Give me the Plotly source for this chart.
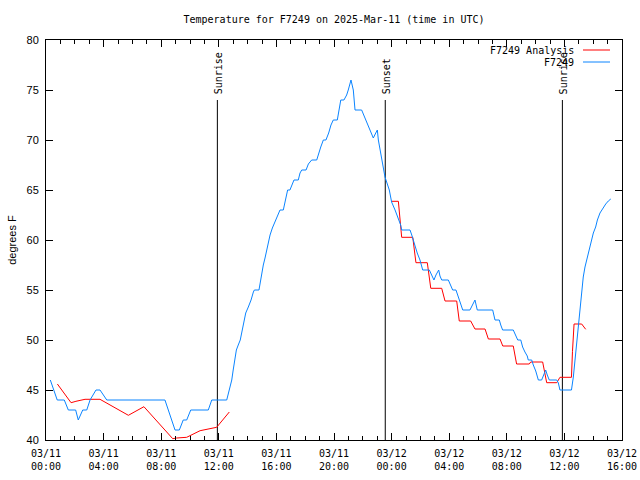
import plotly.graph_objects as go

# ---- data (hours since 03/11 00:00 UTC) ----
obs_hours = [0.30, 0.78, 1.27, 1.55, 2.06, 2.24, 2.55, 2.83, 3.06, 3.47, 3.75, 4.22, 8.26, 8.96, 9.26, 9.53,
             9.77, 10.05, 11.27, 11.51, 12.55, 12.73, 12.90, 13.00, 13.13, 13.22, 13.35, 13.49, 13.63, 13.75,
             13.87, 14.05, 14.24, 14.40, 14.47, 14.79, 14.86, 14.98, 15.09, 15.21, 15.33, 15.44, 15.56, 15.72,
             15.90, 16.06, 16.25, 16.48, 16.60, 16.67, 16.78, 16.94, 17.06, 17.22, 17.52, 17.64, 17.76, 18.06,
             18.22, 18.45, 18.80, 18.90, 19.08, 19.26, 19.44, 19.63, 19.79, 19.95, 20.23, 20.35, 20.47, 20.69,
             20.88, 20.99, 21.11, 21.18, 21.34, 21.46, 21.92, 22.03, 22.22, 22.38, 22.55, 22.73, 22.90, 23.01,
             23.08, 23.19, 23.31, 23.42, 23.54, 23.84, 24.00, 24.24, 24.47, 24.63, 24.70, 25.28, 25.40, 25.51,
             25.62, 25.78, 25.97, 26.16, 26.62, 26.78, 26.94, 27.08, 27.27, 27.36, 27.48, 27.94, 28.10, 28.24,
             28.47, 28.63, 28.75, 28.94, 29.44, 29.63, 29.79, 29.95, 31.02, 31.18, 31.48, 31.58, 31.71, 32.45,
             32.64, 32.76, 32.97, 33.10, 33.26, 33.42, 33.49, 33.73, 33.84, 34.01, 34.19, 34.42, 34.56, 34.70,
             34.81, 34.95, 35.47, 35.58, 35.69, 36.49, 36.62, 36.74, 36.85, 36.97, 37.08, 37.20, 37.31, 37.43,
             37.55, 37.66, 37.78, 37.90, 38.01, 38.17, 38.29, 38.47, 38.66, 38.87, 39.05, 39.22]
obs_temp = [46, 44, 44, 43, 43, 42, 43, 43, 44, 45, 45, 44, 44, 41, 41, 42,
            42, 43, 43, 44, 44, 45, 46, 47, 48, 49, 49.5, 50, 51, 52,
            52.7, 53.3, 54, 54.8, 55, 55, 55.7, 56.7, 57.5, 58.2, 59, 59.8, 60.5, 61.2,
            61.8, 62.5, 63, 63, 63.8, 64.5, 65, 65, 65.5, 66, 66, 66.7, 67, 67,
            67.6, 68, 68, 68.5, 69.3, 70, 70, 70.7, 71.5, 72, 72, 73, 74, 74,
            74.5, 75, 75.7, 76, 75, 73, 73, 72.6, 72, 71.3, 70.8, 70.2, 70.7, 71,
            70, 69, 68, 67, 66.3, 65, 63.8, 63, 62.2, 61.5, 61, 61, 60.5, 60,
            59.3, 58.7, 58, 57, 57, 56.5, 56, 56.5, 57, 56.4, 56, 56, 55.5, 55,
            55, 54.3, 53.7, 53, 53, 53.5, 54, 53, 53, 52, 52, 51.5, 51, 51,
            50.3, 50, 50, 49.3, 48.8, 48.4, 48, 48, 47.5, 46.9, 46, 46, 46.5, 47,
            46.5, 46, 46, 45.7, 45, 45, 46.3, 48, 49.7, 51.3, 53.3, 55, 56.3, 57.3,
            58, 58.7, 59.3, 60, 60.7, 61.3, 62, 62.7, 63.2, 63.6, 63.9, 64.1]

ana_hours = [0.79, 1.74, 2.08, 2.71, 3.75, 5.72, 6.80, 8.80, 9.07, 9.77, 10.70, 11.85, 12.73, None,
             24.00, 24.47, 24.70, 25.47, 25.69, 26.48, 26.72, 27.48, 27.71, 28.52, 28.70, 29.49, 29.79,
             30.49, 30.72, 31.53, 31.72, 32.45, 32.68, 33.56, 33.66, 34.49, 34.77, 35.47, 35.69, 36.49,
             36.56, 36.67, 37.20, 37.48]
ana_temp = [45.6, 43.73, 43.87, 44.07, 44.07, 42.47, 43.33, 40.13, 40.2, 40.27, 40.93, 41.27, 42.8, None,
            63.87, 63.87, 60.27, 60.27, 57.73, 57.73, 55.17, 55.17, 53.9, 53.9, 51.9, 51.9, 51.1,
            51.1, 50.1, 50.1, 49.4, 49.4, 47.6, 47.6, 47.8, 47.8, 45.73, 45.73, 46.27, 46.27,
            48.83, 51.6, 51.6, 51.07]

event_hours = [11.9, 23.56, 35.86]
event_names = ["Sunrise", "Sunset", "Sunrise"]
event_top = 74

tick_hours = [0, 4, 8, 12, 16, 20, 24, 28, 32, 36, 40]
tick_labels = ["03/11<br>00:00", "03/11<br>04:00", "03/11<br>08:00", "03/11<br>12:00", "03/11<br>16:00",
               "03/11<br>20:00", "03/12<br>00:00", "03/12<br>04:00", "03/12<br>08:00", "03/12<br>12:00",
               "03/12<br>16:00"]
y_ticks = [40, 45, 50, 55, 60, 65, 70, 75, 80]

series_names = ["F7249 Analysis", "F7249"]
RED = "#ff0000"
BLUE = "#0a84ff"
MONO = "DejaVu Sans Mono"

W, H = 640, 480

fig = go.Figure()

for h in event_hours:
    fig.add_trace(go.Scatter(x=[h, h], y=[40, event_top], mode="lines",
                             line=dict(color="black", width=1), showlegend=False, hoverinfo="skip"))

fig.add_trace(go.Scatter(x=ana_hours, y=ana_temp, mode="lines", name=series_names[0],
                         line=dict(color=RED, width=1), connectgaps=False, showlegend=False))
fig.add_trace(go.Scatter(x=obs_hours, y=obs_temp, mode="lines", name=series_names[1],
                         line=dict(color=BLUE, width=1), showlegend=False))

for h, n in zip(event_hours, event_names):
    fig.add_annotation(x=h, y=event_top, text=n, textangle=-90, showarrow=False,
                       xanchor="center", yanchor="bottom", yshift=4, xshift=1,
                       font=dict(family=MONO, size=10, color="black"))

# gnuplot-style key: text right-aligned, sample line on the right
for i, (n, c) in enumerate(zip(series_names, [RED, BLUE])):
    ypix = 50 + 12 * i
    yp = 1 - (ypix - 40) / 400
    fig.add_annotation(x=(576 - 46) / 576, y=yp, xref="paper", yref="paper", text=n,
                       showarrow=False, xanchor="right", yanchor="middle",
                       font=dict(family=MONO, size=10, color="black"))
    fig.add_shape(type="line", xref="paper", yref="paper",
                  x0=(583 - 46) / 576, x1=(610 - 46) / 576, y0=yp, y1=yp,
                  line=dict(color=c, width=1))

fig.update_layout(
    width=W, height=H,
    margin=dict(l=46, r=18, t=40, b=40),
    paper_bgcolor="white", plot_bgcolor="white",
    title=dict(text="Temperature for F7249 on 2025-Mar-11 (time in UTC)", x=334 / W, xanchor="center",
               y=1 - 19 / H, yanchor="middle", font=dict(family=MONO, size=10, color="black")),
    showlegend=False,
)
fig.update_xaxes(range=[0, 40], tickvals=tick_hours, ticktext=tick_labels, showgrid=False, zeroline=False,
                 automargin=False, ticklabelstandoff=4,
                 showline=True, linecolor="black", linewidth=1, mirror="ticks",
                 ticks="inside", ticklen=7, tickcolor="black", tickwidth=1,
                 minor=dict(dtick=1, tick0=0, ticks="inside", ticklen=4, tickcolor="black", tickwidth=1, showgrid=False),
                 tickfont=dict(family=MONO, size=10, color="black"))
fig.update_yaxes(range=[40, 80], tickvals=y_ticks, showgrid=False, zeroline=False,
                 automargin=False, ticklabelstandoff=4,
                 showline=True, linecolor="black", linewidth=1, mirror="ticks",
                 ticks="inside", ticklen=7, tickcolor="black", tickwidth=1,
                 tickfont=dict(family="Liberation Sans", size=11, color="black"),
                 title=dict(text="degrees F", standoff=7, font=dict(family="Liberation Sans", size=11, color="black")))

fig.write_html("out.html", config={"displayModeBar": False},
               post_script="document.body.style.margin='0';document.body.style.overflow='hidden';")
